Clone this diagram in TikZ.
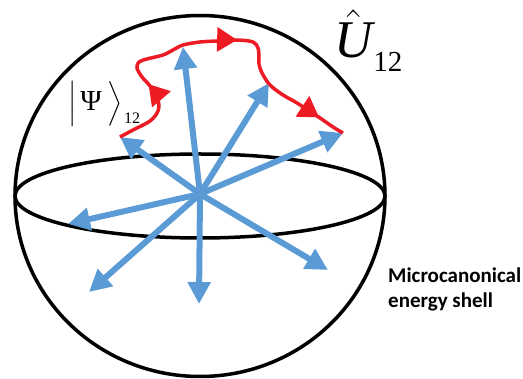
\RequirePackage{fix-cm}
\documentclass[tikz,border=0pt]{standalone}
\usepackage{exscale}
\usepackage{fontspec}
\newfontfamily\labelfont{Carlito}
\newfontfamily\symbfont{Liberation Serif}
\usetikzlibrary{arrows.meta, decorations.markings}

\definecolor{vecblue}{RGB}{91,155,213}
\definecolor{pathred}{RGB}{237,28,36}

\begin{document}
\begin{tikzpicture}[
    x=1pt, y=-1pt,
    shell/.style={
        draw=black,
        line width=3.5pt
    },
    vec/.style={
        -{Triangle[length=22pt, width=22pt]},
        line width=6pt,
        vecblue
    },
    traj/.style={
        line width=3.5pt,
        pathred,
        postaction={decorate},
        decoration={markings,
            mark=at position 0.215 with {\arrow{Triangle[length=20pt, width=24pt]}},
            mark=at position 0.575 with {\arrow{Triangle[length=20pt, width=24pt]}},
            mark=at position 0.92 with {\arrow{Triangle[length=20pt, width=24pt]}}
        }
    },
    caption/.style={
        font=\labelfont\bfseries\fontsize{21}{24.5}\selectfont,
        align=left,
        inner sep=0pt
    }
]

    \useasboundingbox (0,0) rectangle (523,379);

    % Sphere and equator
    \draw[shell] (200,196) ellipse [x radius=185, y radius=180.5];
    \draw[shell] (200,196) ellipse [x radius=185, y radius=42];

    % Hub and vector tips
    \coordinate (hub) at (200,194);
    \coordinate (tipUL) at (120,137);
    \coordinate (tipU) at (183,47);
    \coordinate (tipUR) at (269,83);
    \coordinate (tipR) at (343,133);
    \coordinate (tipL) at (68,224);
    \coordinate (tipDL) at (89,292);
    \coordinate (tipD) at (199,304);
    \coordinate (tipDR) at (328,270);

    % State vectors
    \draw[vec] (hub) -- (tipUL);
    \draw[vec] (hub) -- (tipU);
    \draw[vec] (hub) -- (tipUR);
    \draw[vec] (hub) -- (tipR);
    \draw[vec] (hub) -- (tipL);
    \draw[vec] (hub) -- (tipDL);
    \draw[vec] (hub) -- (tipD);
    \draw[vec] (hub) -- (tipDR);

    % Unitary trajectory
    \draw[traj] plot[smooth, tension=0.55] coordinates {
        (tipUL) (133,130) (150,121) (158,111) (158,100) (150,86) (142,77)
        (137,68) (139,62) (147,59) (163,55) (173,50) (183,45) (200,42)
        (217,41) (237,40) (253,42) (258,48) (259,57) (259,64) (262,73)
        (270,85) (283,95) (297,103) (320,118) (333,127) (tipR)};

    % Labels
    \node[inner sep=0pt, anchor=base west] (psi) at (68,111)
        {\fontsize{29}{32}\selectfont$\left|\vcenter{\hbox{\rule{0pt}{42pt}}}\kern4pt\mbox{\symbfont Ψ}\kern6pt\right\rangle$\kern1pt\raisebox{-13pt}{\symbfont\fontsize{16}{18}\selectfont 12}};
    \node[inner sep=0pt, anchor=base west] (unitary) at (334,58)
        {\fontsize{53}{60}\selectfont$\hat{\mbox{\symbfont\itshape U}}$\kern1pt\raisebox{-14pt}{\symbfont\fontsize{29}{30}\selectfont 12}};
    \node[caption, anchor=north west] (shelltext) at (388,268)
        {Microcanonical\\energy shell};

\end{tikzpicture}
\end{document}
